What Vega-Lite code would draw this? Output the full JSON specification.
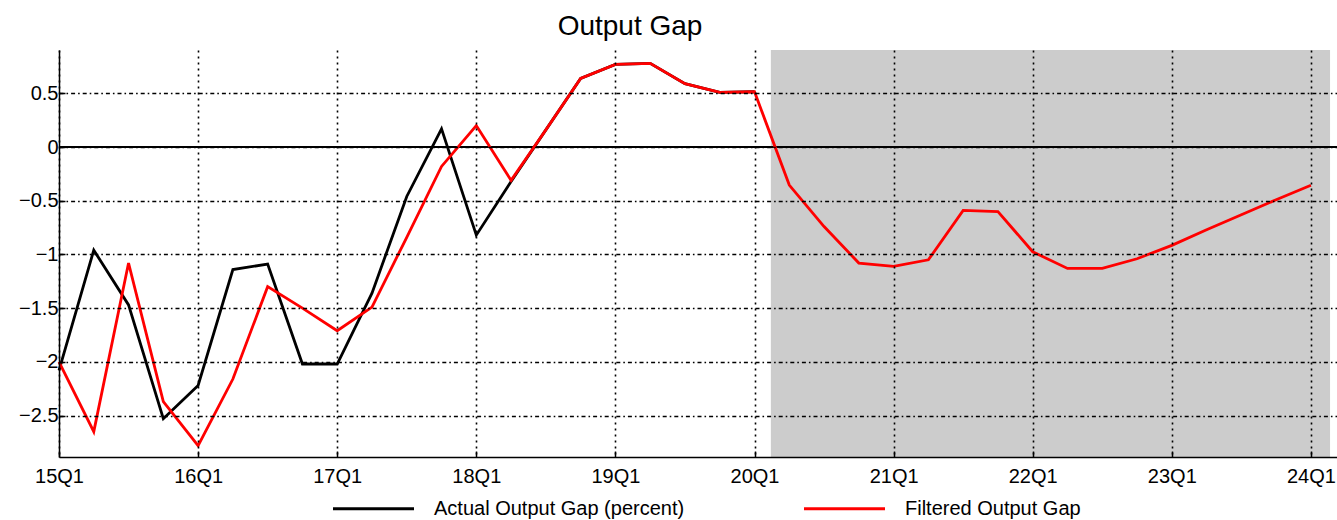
{
  "$schema": "https://vega.github.io/schema/vega-lite/v6.json",
  "width": 1278,
  "height": 407,
  "autosize": {"type": "none"},
  "padding": {"left": 59, "top": 50, "right": 0, "bottom": 63},
  "background": "white",
  "config": {"view": {"stroke": null}, "font": "Liberation Sans"},
  "title": {"text": "Output Gap", "fontSize": 28, "fontWeight": "normal", "font": "Liberation Sans", "color": "black", "dx": -68, "offset": -13, "baseline": "alphabetic"},
  "datasets": {
    "forecast": [{"start": 20.47, "end": 36.55}],
    "gap": [
      {"q": 0, "quarter": "15Q1", "series": "Actual Output Gap (percent)", "value": -2.08},
      {"q": 1, "quarter": "15Q2", "series": "Actual Output Gap (percent)", "value": -0.96},
      {"q": 2, "quarter": "15Q3", "series": "Actual Output Gap (percent)", "value": -1.47},
      {"q": 3, "quarter": "15Q4", "series": "Actual Output Gap (percent)", "value": -2.53},
      {"q": 4, "quarter": "16Q1", "series": "Actual Output Gap (percent)", "value": -2.22},
      {"q": 5, "quarter": "16Q2", "series": "Actual Output Gap (percent)", "value": -1.14},
      {"q": 6, "quarter": "16Q3", "series": "Actual Output Gap (percent)", "value": -1.09},
      {"q": 7, "quarter": "16Q4", "series": "Actual Output Gap (percent)", "value": -2.02},
      {"q": 8, "quarter": "17Q1", "series": "Actual Output Gap (percent)", "value": -2.02},
      {"q": 9, "quarter": "17Q2", "series": "Actual Output Gap (percent)", "value": -1.36},
      {"q": 10, "quarter": "17Q3", "series": "Actual Output Gap (percent)", "value": -0.46},
      {"q": 11, "quarter": "17Q4", "series": "Actual Output Gap (percent)", "value": 0.17},
      {"q": 12, "quarter": "18Q1", "series": "Actual Output Gap (percent)", "value": -0.82},
      {"q": 13, "quarter": "18Q2", "series": "Actual Output Gap (percent)", "value": -0.32},
      {"q": 14, "quarter": "18Q3", "series": "Actual Output Gap (percent)", "value": 0.16},
      {"q": 15, "quarter": "18Q4", "series": "Actual Output Gap (percent)", "value": 0.64},
      {"q": 16, "quarter": "19Q1", "series": "Actual Output Gap (percent)", "value": 0.77},
      {"q": 17, "quarter": "19Q2", "series": "Actual Output Gap (percent)", "value": 0.78},
      {"q": 18, "quarter": "19Q3", "series": "Actual Output Gap (percent)", "value": 0.59},
      {"q": 19, "quarter": "19Q4", "series": "Actual Output Gap (percent)", "value": 0.51},
      {"q": 20, "quarter": "20Q1", "series": "Actual Output Gap (percent)", "value": 0.515},
      {"q": 0, "quarter": "15Q1", "series": "Filtered Output Gap", "value": -2.0},
      {"q": 1, "quarter": "15Q2", "series": "Filtered Output Gap", "value": -2.65},
      {"q": 2, "quarter": "15Q3", "series": "Filtered Output Gap", "value": -1.08},
      {"q": 3, "quarter": "15Q4", "series": "Filtered Output Gap", "value": -2.37},
      {"q": 4, "quarter": "16Q1", "series": "Filtered Output Gap", "value": -2.78},
      {"q": 5, "quarter": "16Q2", "series": "Filtered Output Gap", "value": -2.16},
      {"q": 6, "quarter": "16Q3", "series": "Filtered Output Gap", "value": -1.30},
      {"q": 7, "quarter": "16Q4", "series": "Filtered Output Gap", "value": -1.50},
      {"q": 8, "quarter": "17Q1", "series": "Filtered Output Gap", "value": -1.71},
      {"q": 9, "quarter": "17Q2", "series": "Filtered Output Gap", "value": -1.49},
      {"q": 10, "quarter": "17Q3", "series": "Filtered Output Gap", "value": -0.84},
      {"q": 11, "quarter": "17Q4", "series": "Filtered Output Gap", "value": -0.18},
      {"q": 12, "quarter": "18Q1", "series": "Filtered Output Gap", "value": 0.20},
      {"q": 13, "quarter": "18Q2", "series": "Filtered Output Gap", "value": -0.31},
      {"q": 14, "quarter": "18Q3", "series": "Filtered Output Gap", "value": 0.16},
      {"q": 15, "quarter": "18Q4", "series": "Filtered Output Gap", "value": 0.64},
      {"q": 16, "quarter": "19Q1", "series": "Filtered Output Gap", "value": 0.77},
      {"q": 17, "quarter": "19Q2", "series": "Filtered Output Gap", "value": 0.78},
      {"q": 18, "quarter": "19Q3", "series": "Filtered Output Gap", "value": 0.59},
      {"q": 19, "quarter": "19Q4", "series": "Filtered Output Gap", "value": 0.51},
      {"q": 20, "quarter": "20Q1", "series": "Filtered Output Gap", "value": 0.515},
      {"q": 21, "quarter": "20Q2", "series": "Filtered Output Gap", "value": -0.354},
      {"q": 22, "quarter": "20Q3", "series": "Filtered Output Gap", "value": -0.74},
      {"q": 23, "quarter": "20Q4", "series": "Filtered Output Gap", "value": -1.08},
      {"q": 24, "quarter": "21Q1", "series": "Filtered Output Gap", "value": -1.11},
      {"q": 25, "quarter": "21Q2", "series": "Filtered Output Gap", "value": -1.05},
      {"q": 26, "quarter": "21Q3", "series": "Filtered Output Gap", "value": -0.59},
      {"q": 27, "quarter": "21Q4", "series": "Filtered Output Gap", "value": -0.60},
      {"q": 28, "quarter": "22Q1", "series": "Filtered Output Gap", "value": -0.975},
      {"q": 29, "quarter": "22Q2", "series": "Filtered Output Gap", "value": -1.13},
      {"q": 30, "quarter": "22Q3", "series": "Filtered Output Gap", "value": -1.13},
      {"q": 31, "quarter": "22Q4", "series": "Filtered Output Gap", "value": -1.04},
      {"q": 32, "quarter": "23Q1", "series": "Filtered Output Gap", "value": -0.915},
      {"q": 33, "quarter": "23Q2", "series": "Filtered Output Gap", "value": -0.77},
      {"q": 34, "quarter": "23Q3", "series": "Filtered Output Gap", "value": -0.63},
      {"q": 35, "quarter": "23Q4", "series": "Filtered Output Gap", "value": -0.49},
      {"q": 36, "quarter": "24Q1", "series": "Filtered Output Gap", "value": -0.355}
    ]
  },
  "layer": [
    {
      "data": {"name": "forecast"},
      "mark": {"type": "rect", "color": "#cccccc"},
      "encoding": {
        "x": {
          "field": "start", "type": "quantitative",
          "scale": {"domain": [0, 36.75], "nice": false, "zero": false},
          "axis": {
            "values": [0, 4, 8, 12, 16, 20, 24, 28, 32, 36],
            "labelExpr": "(15 + datum.value / 4) + 'Q1'",
            "title": null,
            "grid": true, "gridColor": "black", "gridDash": [2, 4], "gridWidth": 1.6, "gridOpacity": 1,
            "domainColor": "black", "domainWidth": 1.5,
            "tickColor": "black", "tickSize": -6, "tickWidth": 1.5,
            "labelFontSize": 20, "labelColor": "black", "labelPadding": 15,
            "labelFlush": false, "labelOverlap": false, "labelBound": false,
            "zindex": 1
          }
        },
        "x2": {"field": "end"}
      }
    },
    {
      "data": {"name": "gap"},
      "transform": [{"filter": "datum.series === 'Actual Output Gap (percent)'"}],
      "mark": {"type": "line", "strokeWidth": 2.8},
      "encoding": {
        "x": {"field": "q", "type": "quantitative"},
        "y": {
          "field": "value", "type": "quantitative",
          "scale": {"domain": [-2.886, 0.904], "nice": false, "zero": false},
          "axis": {
            "values": [-2.5, -2, -1.5, -1, -0.5, 0, 0.5],
            "format": "~g",
            "title": null,
            "grid": true, "gridColor": "black", "gridDash": [4, 3, 1.6, 3], "gridWidth": 1.5, "gridOpacity": 1,
            "domainColor": "black", "domainWidth": 1.5,
            "tickColor": "black", "tickSize": -6, "tickWidth": 1.5,
            "labelFontSize": 20, "labelColor": "black", "labelPadding": 7,
            "labelOverlap": false, "labelBound": false, "labelFlush": false,
            "zindex": 1
          }
        },
        "color": {
          "field": "series", "type": "nominal",
          "scale": {"domain": ["Actual Output Gap (percent)", "Filtered Output Gap"], "range": ["#000000", "#ff0000"]},
          "legend": {
            "orient": "none", "legendX": 272, "legendY": 416,
            "direction": "horizontal", "title": null,
            "symbolType": "stroke", "symbolSize": 6561, "symbolStrokeWidth": 3.2,
            "labelFontSize": 20, "labelColor": "black", "labelOffset": 18, "labelLimit": 0,
            "columnPadding": 112
          }
        }
      }
    },
    {
      "data": {"name": "gap"},
      "mark": {"type": "rule", "color": "black", "strokeWidth": 1.6},
      "encoding": {"y": {"datum": 0, "type": "quantitative"}}
    },
    {
      "data": {"name": "gap"},
      "transform": [{"filter": "datum.series === 'Filtered Output Gap'"}],
      "mark": {"type": "line", "strokeWidth": 2.8},
      "encoding": {
        "x": {"field": "q", "type": "quantitative"},
        "y": {"field": "value", "type": "quantitative"},
        "color": {"field": "series", "type": "nominal"}
      }
    }
  ]
}
